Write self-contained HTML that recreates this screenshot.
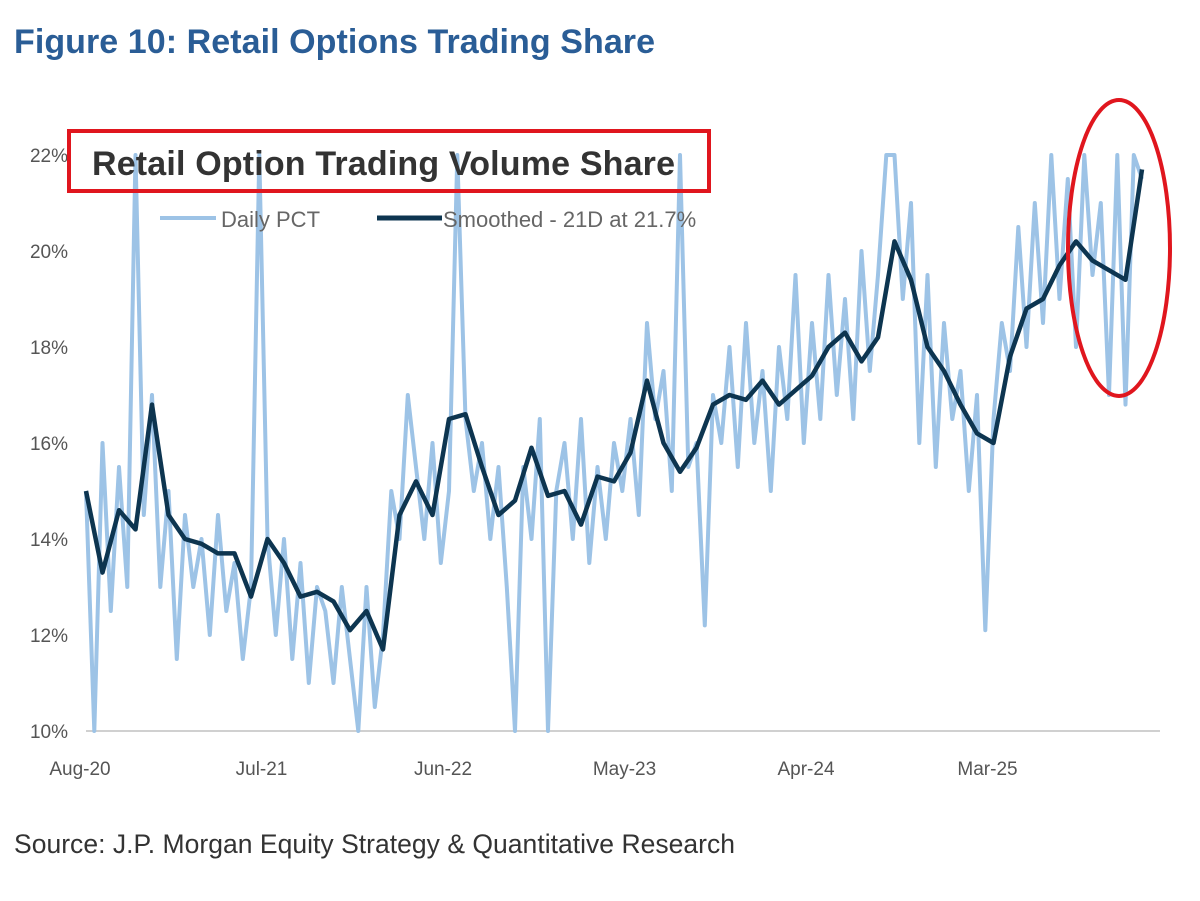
<!DOCTYPE html>
<html><head><meta charset="utf-8">
<style>
body{margin:0;background:#fff;width:1200px;height:896px;overflow:hidden;font-family:"Liberation Sans",Arial,sans-serif}
</style></head>
<body>
<svg id="chart" width="1200" height="896" xmlns="http://www.w3.org/2000/svg">
<text x="14" y="53" font-size="34" font-weight="bold" fill="#2a5d96" textLength="641">Figure 10: Retail Options Trading Share</text>
<g id="yaxis"></g>
<g id="xaxis"></g>
<line x1="86" y1="731" x2="1160" y2="731" stroke="#d0d0d0" stroke-width="2"/>
<g id="series"></g>
<rect x="69" y="131" width="640" height="60" fill="none" stroke="#e0161e" stroke-width="4"/>
<text x="92" y="175" font-size="34" font-weight="bold" fill="#333" textLength="583">Retail Option Trading Volume Share</text>
<line x1="160" y1="218" x2="216" y2="218" stroke="#9dc3e6" stroke-width="4"/>
<text x="221" y="227" font-size="22" fill="#666">Daily PCT</text>
<line x1="377" y1="218" x2="442" y2="218" stroke="#0d3550" stroke-width="5"/>
<text x="443" y="227" font-size="22" fill="#666">Smoothed - 21D at 21.7%</text>
<ellipse cx="1119" cy="248" rx="51" ry="148" fill="none" stroke="#e0161e" stroke-width="4"/>
<text x="14" y="853" font-size="26.5" fill="#333" textLength="721">Source: J.P. Morgan Equity Strategy &amp; Quantitative Research</text>
</svg>
<script>
const yTicks=[10,12,14,16,18,20,22];
const xLabels=["Aug-20","Jul-21","Jun-22","May-23","Apr-24","Mar-25"];
const xLabelMonths=[0,11,22,33,44,55];
const smoothed=[15.0,13.3,14.6,14.2,16.8,14.5,14.0,13.9,13.7,13.7,12.8,14.0,13.5,12.8,12.9,12.7,12.1,12.5,11.7,14.5,15.2,14.5,16.5,16.6,15.5,14.5,14.8,15.9,14.9,15.0,14.3,15.3,15.2,15.8,17.3,16.0,15.4,15.9,16.8,17.0,16.9,17.3,16.8,17.1,17.4,18.0,18.3,17.7,18.2,20.2,19.4,18.0,17.5,16.8,16.2,16.0,17.8,18.8,19.0,19.7,20.2,19.8,19.6,19.4,21.7];
const daily=[15.0,10.0,16.0,12.5,15.5,13.0,22.0,14.5,17.0,13.0,15.0,11.5,14.5,13.0,14.0,12.0,14.5,12.5,13.5,11.5,13.0,22.0,14.0,12.0,14.0,11.5,13.5,11.0,13.0,12.5,11.0,13.0,11.5,10.0,13.0,10.5,12.0,15.0,14.0,17.0,15.5,14.0,16.0,13.5,15.0,22.0,16.5,15.0,16.0,14.0,15.5,13.0,10.0,15.5,14.0,16.5,10.0,15.0,16.0,14.0,16.5,13.5,15.5,14.0,16.0,15.0,16.5,14.5,18.5,16.5,17.5,15.0,22.0,15.5,16.0,12.2,17.0,16.0,18.0,15.5,18.5,16.0,17.5,15.0,18.0,16.5,19.5,16.0,18.5,16.5,19.5,17.0,19.0,16.5,20.0,17.5,19.5,22.0,22.0,19.0,21.0,16.0,19.5,15.5,18.5,16.5,17.5,15.0,17.0,12.1,16.5,18.5,17.5,20.5,18.0,21.0,18.5,22.0,19.0,21.5,18.0,22.0,19.5,21.0,17.0,22.0,16.8,22.0,21.5];
const NS="http://www.w3.org/2000/svg";
const x=m=>86+m*16.5;
const y=v=>731-(v-10)*48.0;
const yax=document.getElementById('yaxis');
yTicks.forEach(t=>{const e=document.createElementNS(NS,'text');
e.setAttribute('x',68);e.setAttribute('y',y(t)+7);e.setAttribute('text-anchor','end');
e.setAttribute('font-size','19');e.setAttribute('fill','#555');e.textContent=t+'%';


yax.appendChild(e);});
const xax=document.getElementById('xaxis');
xLabels.forEach((l,i)=>{const e=document.createElementNS(NS,'text');
e.setAttribute('x',x(xLabelMonths[i])-6);e.setAttribute('y',775);e.setAttribute('text-anchor','middle');
e.setAttribute('font-size','19');e.setAttribute('fill','#555');e.textContent=l;


xax.appendChild(e);});
const g=document.getElementById('series');
function line(vals,span,color,w,name){const p=document.createElementNS(NS,'polyline');
const step=span/(vals.length-1);
p.setAttribute('points',vals.map((v,i)=>x(i*step).toFixed(1)+','+y(v).toFixed(1)).join(' '));
p.setAttribute('fill','none');p.setAttribute('stroke',color);p.setAttribute('stroke-width',w);p.setAttribute('stroke-linejoin','round');


g.appendChild(p);}
line(daily,64,'#9dc3e6',4,'daily-pct-line');
line(smoothed,64,'#0d3550',4.5,'smoothed-line');
</script>
</body></html>
